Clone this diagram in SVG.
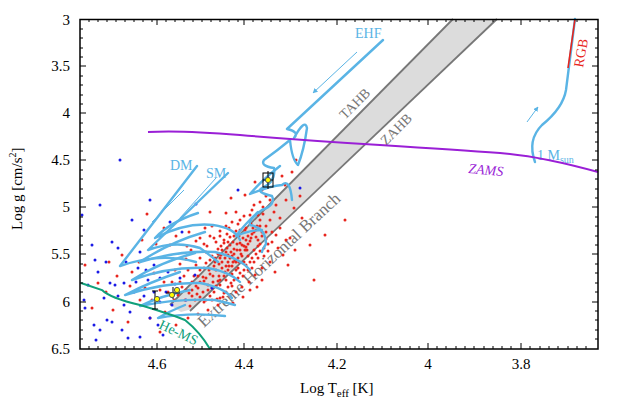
<svg xmlns="http://www.w3.org/2000/svg" width="627" height="418" viewBox="0 0 627 418" font-family="'Liberation Serif', 'Times New Roman', serif">
<style>
text{font-family:"Liberation Serif","Times New Roman",serif}
.ax{font-size:15px;fill:#000}
.trk{fill:none;stroke:#5ab4e5;stroke-width:2.4;stroke-linejoin:round;stroke-linecap:round}
.thin{fill:none;stroke:#5ab4e5;stroke-width:1}
.red{fill:none;stroke:#e8251d;stroke-width:3;stroke-linecap:round}
.blue{fill:none;stroke:#1a1ae6;stroke-width:3;stroke-linecap:round}
.tick{stroke:#000;stroke-width:1}
</style>
<defs>
<marker id="ah" viewBox="0 0 10 10" refX="9" refY="5" markerWidth="5" markerHeight="5" orient="auto"><path d="M0,0L10,5L0,10z" fill="#5ab4e5"/></marker>
</defs>
<rect width="627" height="418" fill="#fff"/>
<g id="band">
<polygon points="453,19 497,19 192,309 181,312 170,305" fill="#dcdcdc"/>
<polyline points="453,19 170,305" fill="none" stroke="#777" stroke-width="1.8"/>
<polyline points="497,19 190,311" fill="none" stroke="#777" stroke-width="1.8"/>
<text x="0" y="0" transform="translate(345,120) rotate(-45)" fill="#777" font-size="14">TAHB</text>
<text x="0" y="0" transform="translate(386,146) rotate(-45)" fill="#777" font-size="14">ZAHB</text>
<text x="0" y="0" transform="translate(204,328) rotate(-43)" fill="#777" font-size="17">Extreme Horizontal Branch</text>
</g>
<g id="dots">
<path class="red" d="M147,214h0M170,245h0M139,262h0M186,259h0M200,238h0M212,226h0M226,213h0M245,195h0M255,182h0M262,190h0M270,200h0M285,185h0M300,196h0M290,238h0M310,245h0M325,235h0M345,220h0M314,280h0M288,265h0M268,251h0M276,235h0M260,226h0M232,222h0M216,242h0M206,252h0M196,265h0M184,276h0M175,270h0M164,282h0M154,273h0M145,288h0M122,255h0M109,262h0M98,283h0M92,308h0M85,265h0M113,310h0M128,322h0M150,318h0M165,312h0M176,325h0M160,332h0M200,297h0M208,290h0M213,282h0M219,276h0M222,268h0M228,262h0M232,256h0M237,250h0M242,245h0M246,240h0M252,234h0M256,230h0M260,244h0M254,250h0M248,256h0M244,262h0M238,268h0M232,274h0M226,280h0M220,285h0M214,292h0M206,300h0M198,288h0M192,282h0M189,293h0M195,300h0M203,277h0M209,270h0M215,262h0M221,255h0M227,248h0M233,242h0M239,236h0M245,230h0M251,224h0M236,231h0M230,237h0M224,243h0M218,249h0M212,256h0M206,263h0M200,270h0M194,276h0M188,270h0M182,287h0M178,295h0M185,300h0M190,306h0M216,270h0M222,262h0M228,255h0M234,249h0M240,243h0M246,247h0M250,241h0M256,237h0M262,232h0M266,226h0M270,220h0M266,239h0M260,251h0M252,258h0M246,265h0M240,273h0M234,280h0M228,287h0M224,293h0M217,299h0M208,285h0M204,281h0M229,266h0M235,260h0M241,254h0M247,250h0M238,258h0M225,272h0M218,281h0M212,288h0M243,238h0M237,244h0M231,252h0M225,258h0M219,264h0M213,276h0M203,292h0M197,294h0M174,300h0M168,292h0M160,290h0M172,282h0M180,264h0M191,250h0M204,244h0M210,236h0M220,231h0M229,228h0M240,220h0M250,215h0M274,212h0M280,218h0M272,242h0M278,248h0M283,255h0M270,262h0M262,268h0M255,275h0M249,282h0M242,287h0M236,292h0M230,296h0M208,310h0M198,314h0M188,318h0M250,290h0M262,280h0M275,272h0M295,250h0M302,218h0M268,178h0M282,176h0M292,172h0M296,160h0M258,215h0M254,205h0M263,207h0M236,212h0M189,232h0M176,236h0M164,228h0M156,244h0M142,240h0M132,272h0M140,300h0M117,276h0M106,292h0M233,303h0M243,297h0M257,287h0M218,305h0M130,286h0M152,300h0M187,246h0M196,241h0M205,228h0M231,198h0M210,212h0M246,228h0M258,246h0M264,256h0M252,268h0M243,276h0M231,283h0M223,297h0M212,300h0M215,258h0M218,254h0M221,246h0M224,240h0M227,234h0M230,245h0M233,262h0M236,270h0M239,262h0M242,256h0M245,250h0M248,244h0M251,238h0M254,232h0M257,226h0M260,220h0M263,214h0M226,266h0M230,258h0M234,254h0M226,252h0M220,258h0M214,266h0M210,274h0M206,278h0M200,282h0M196,286h0M192,290h0M216,286h0M220,280h0M224,276h0M228,270h0M232,266h0M236,262h0M240,250h0M244,246h0M248,236h0M253,228h0M258,240h0M262,236h0M256,254h0M250,262h0M244,270h0M238,278h0M232,286h0M226,292h0M220,298h0M210,296h0M204,302h0M248,270h0M254,262h0M258,258h0M264,248h0M268,244h0M272,232h0M266,232h0M240,230h0M234,236h0M228,242h0M222,250h0M210,260h0M204,268h0M198,276h0M192,296h0M186,290h0M180,282h0M200,258h0M207,246h0M214,238h0M220,236h0M226,226h0M238,224h0M244,216h0M252,210h0M260,202h0M266,196h0M276,205h0M286,200h0M294,208h0M280,228h0M286,240h0"/>
<path class="blue" d="M120,160h0M100,205h0M82,215h0M92,245h0M88,285h0M85,308h0M94,325h0M100,330h0M107,320h0M112,322h0M104,298h0M98,272h0M110,283h0M118,296h0M124,305h0M130,312h0M122,330h0M128,338h0M96,340h0M140,337h0M150,318h0M158,325h0M163,335h0M134,292h0M144,296h0M138,268h0M126,262h0M146,270h0M154,265h0M160,278h0M168,272h0M175,284h0M180,278h0M186,300h0M172,305h0M160,302h0M148,280h0M118,248h0M112,242h0M106,262h0M132,220h0M144,230h0M160,236h0M170,222h0M182,232h0M196,204h0M238,190h0M300,188h0M150,200h0M115,285h0M124,283h0M136,282h0M95,260h0M84,300h0M166,292h0M154,292h0M140,252h0M212,288h0M195,275h0"/>
</g>
<g id="tracks">
<path class="trk" d="M383,40 L287,129 Q300,132 294,138 Q305,118 307,128 Q304,150 298,165 Q292,160 290,140 Q278,150 264,160 Q260,166 274,168 Q276,182 262,188 Q255,192 272,196 Q276,205 262,210 Q248,220 250,225 Q266,228 266,244 Q262,250 262,252"/>
<path class="trk" d="M197,166 L120,266 Q160,252 196,262"/>
<path class="trk" d="M228,173 L148,250 Q175,240 200,248 Q210,255 218,262"/>
<path class="trk" d="M198,213 Q170,222 155,238 Q186,222 213,225 Q235,228 240,240"/>
<path class="trk" d="M205,232 Q170,242 140,262 Q180,250 215,252 Q240,258 250,270"/>
<path class="trk" d="M195,253 Q160,262 132,280 Q170,266 208,268 Q230,272 240,282"/>
<path class="trk" d="M180,272 Q150,282 125,295 Q165,282 200,283 Q225,288 232,298"/>
<path class="trk" d="M190,290 Q160,296 140,306 Q180,298 215,300 Q228,303 235,305"/>
<path class="trk" d="M185,305 Q168,312 158,318 Q190,312 225,316"/>
<path class="trk" d="M280,166 Q262,180 250,194 Q270,186 282,185 Q290,178 292,200"/>
<path class="trk" d="M258,212 Q244,225 236,236 Q250,230 262,230"/>
<path class="thin" d="M357,52 L313,93" marker-end="url(#ah)"/>
<path class="thin" d="M184,190 L152,222"/>
<path class="thin" d="M216,178 L180,218"/>
<path class="trk" d="M535,162 Q527,140 542,125 Q563,108 566,90 L575,19" stroke-width="2"/>
<path class="thin" d="M527,122 L538,107" marker-end="url(#ah)"/>
<path d="M568,68 L575,19" stroke="#e8251d" stroke-width="1.6" fill="none"/>
<text x="0" y="0" transform="translate(583,68) rotate(-80)" fill="#e8251d" font-size="14">RGB</text>
<text x="537" y="160" fill="#5ab4e5" font-size="14">1 M<tspan font-size="10" dy="3">sun</tspan></text>
<text x="355" y="38" fill="#5ab4e5" font-size="14">EHF</text>
<text x="170" y="170" fill="#5ab4e5" font-size="14">DM</text>
<text x="206" y="178" fill="#5ab4e5" font-size="14">SM</text>
</g>
<g id="zams">
<path d="M148,132 Q180,130 240,135 T380,145 T500,153 T598,172" fill="none" stroke="#9a1fd6" stroke-width="2"/>
<text x="0" y="0" transform="translate(468,173) rotate(5)" fill="#9a1fd6" font-size="14" font-style="italic">ZAMS</text>
</g>
<g id="hems">
<path d="M81,283 L102,290 Q110,298 140,305 Q170,314 185,320 Q200,332 210,349" fill="none" stroke="#10a07a" stroke-width="2"/>
<text x="0" y="0" transform="translate(158,328) rotate(25)" fill="#10a07a" font-size="14">He-MS</text>
</g>
<g id="points" stroke="#000" stroke-width="1">
<rect x="263" y="173" width="10" height="14" fill="none"/>
<path d="M268,171v18M263,180h10M155,291v18M152,291h6M152,309h6M166,293h14M173,287v12"/>
<circle cx="268" cy="180" r="2.6" fill="#ffff00" stroke="#555"/>
<circle cx="157" cy="299" r="2.6" fill="#ffff00" stroke="#555"/>
<circle cx="172" cy="295" r="2.6" fill="#ffff00" stroke="#555"/>
<circle cx="177" cy="290" r="2.6" fill="#ffff00" stroke="#555"/>
</g>
<g id="axes">
<rect x="80" y="19.5" width="518" height="329.5" fill="none" stroke="#000" stroke-width="1.5"/>
<path class="tick" d="M157,19v6M244,19v6M337,19v6M428,19v6M521,19v6M157,349v-6M244,349v-6M337,349v-6M428,349v-6M521,349v-6M80,66h6M80,113h6M80,160h6M80,207h6M80,254h6M80,302h6M598,66h-6M598,113h-6M598,160h-6M598,207h-6M598,254h-6M598,302h-6"/>
<path class="tick" d="M89,19v3M98,19v3M107,19v3M116,19v3M125,19v3M134,19v3M143,19v3M152,19v3M166,19v3M175,19v3M184,19v3M193,19v3M202,19v3M211,19v3M220,19v3M229,19v3M238,19v3M253,19v3M262,19v3M271,19v3M280,19v3M290,19v3M299,19v3M308,19v3M317,19v3M326,19v3M346,19v3M355,19v3M364,19v3M373,19v3M382,19v3M391,19v3M400,19v3M410,19v3M419,19v3M437,19v3M446,19v3M456,19v3M465,19v3M474,19v3M484,19v3M493,19v3M502,19v3M511,19v3M530,19v3M540,19v3M549,19v3M558,19v3M568,19v3M577,19v3M586,19v3M89,349v-3M98,349v-3M107,349v-3M116,349v-3M125,349v-3M134,349v-3M143,349v-3M152,349v-3M166,349v-3M175,349v-3M184,349v-3M193,349v-3M202,349v-3M211,349v-3M220,349v-3M229,349v-3M238,349v-3M253,349v-3M262,349v-3M271,349v-3M280,349v-3M290,349v-3M299,349v-3M308,349v-3M317,349v-3M326,349v-3M346,349v-3M355,349v-3M364,349v-3M373,349v-3M382,349v-3M391,349v-3M400,349v-3M410,349v-3M419,349v-3M437,349v-3M446,349v-3M456,349v-3M465,349v-3M474,349v-3M484,349v-3M493,349v-3M502,349v-3M511,349v-3M530,349v-3M540,349v-3M549,349v-3M558,349v-3M568,349v-3M577,349v-3M586,349v-3M80,29h3M80,38h3M80,48h3M80,57h3M80,76h3M80,85h3M80,95h3M80,104h3M80,123h3M80,132h3M80,142h3M80,151h3M80,170h3M80,179h3M80,189h3M80,198h3M80,217h3M80,226h3M80,236h3M80,245h3M80,264h3M80,273h3M80,283h3M80,292h3M80,311h3M80,320h3M80,330h3M80,339h3M598,29h-3M598,38h-3M598,48h-3M598,57h-3M598,76h-3M598,85h-3M598,95h-3M598,104h-3M598,123h-3M598,132h-3M598,142h-3M598,151h-3M598,170h-3M598,179h-3M598,189h-3M598,198h-3M598,217h-3M598,226h-3M598,236h-3M598,245h-3M598,264h-3M598,273h-3M598,283h-3M598,292h-3M598,311h-3M598,320h-3M598,330h-3M598,339h-3"/>
<g class="ax" text-anchor="middle">
<text x="157" y="369">4.6</text><text x="244" y="369">4.4</text><text x="337" y="369">4.2</text><text x="428" y="369">4</text><text x="521" y="369">3.8</text>
</g>
<g class="ax" text-anchor="end">
<text x="70" y="25">3</text><text x="70" y="71">3.5</text><text x="70" y="118">4</text><text x="70" y="165">4.5</text><text x="70" y="212">5</text><text x="70" y="259">5.5</text><text x="70" y="307">6</text><text x="70" y="354">6.5</text>
</g>
<text class="ax" x="300" y="393">Log T<tspan font-size="11" dy="4">eff</tspan><tspan dy="-4"> [K]</tspan></text>
<text class="ax" x="0" y="0" transform="translate(22,230) rotate(-90)">Log g [cm/s<tspan font-size="10" dy="-6">2</tspan><tspan dy="6">]</tspan></text>
</g>
</svg>
